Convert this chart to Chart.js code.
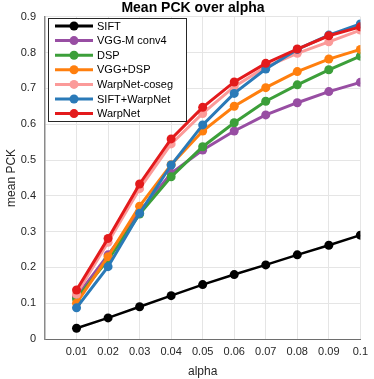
<!DOCTYPE html>
<html>
<head>
<meta charset="utf-8">
<script src="https://cdn.jsdelivr.net/npm/chart.js@4"></script>
<style>
  html, body { margin: 0; padding: 0; background: #fff; }
  #wrap { width: 374px; height: 379px; }
</style>
</head>
<body>
<div id="wrap"><canvas id="chart-pck" width="374" height="379"></canvas></div>
<script>
// Data
const alphas = [0.01, 0.02, 0.03, 0.04, 0.05, 0.06, 0.07, 0.08, 0.09, 0.1];
const yTicks = [0, 0.1, 0.2, 0.3, 0.4, 0.5, 0.6, 0.7, 0.8, 0.9];
const names = ['SIFT', 'VGG-M conv4', 'DSP', 'VGG+DSP', 'WarpNet-coseg', 'SIFT+WarpNet', 'WarpNet'];
const colors = ['#000000', '#984ea3', '#3c9f3a', '#ff7f0e', '#fb9a99', '#2a7ab8', '#e31a1c'];

const sift         = [0.030, 0.059, 0.090, 0.121, 0.152, 0.180, 0.207, 0.235, 0.262, 0.290];
const vggConv4     = [0.118, 0.235, 0.355, 0.463, 0.528, 0.581, 0.626, 0.660, 0.691, 0.717];
const dsp          = [0.112, 0.222, 0.349, 0.453, 0.537, 0.604, 0.664, 0.710, 0.752, 0.790];
const vggDsp       = [0.100, 0.230, 0.371, 0.487, 0.581, 0.650, 0.702, 0.747, 0.782, 0.809];
const warpCoseg    = [0.125, 0.270, 0.420, 0.545, 0.630, 0.705, 0.760, 0.798, 0.830, 0.863];
const siftWarpNet  = [0.087, 0.202, 0.351, 0.486, 0.598, 0.686, 0.754, 0.809, 0.849, 0.880];
const warpNet      = [0.137, 0.281, 0.433, 0.559, 0.647, 0.718, 0.770, 0.810, 0.847, 0.872];

const series = [sift, vggConv4, dsp, vggDsp, warpCoseg, siftWarpNet, warpNet];

const FONT = '"Liberation Sans", Arial, Helvetica, sans-serif';

// legend box drawn inside the plot, top-left
const insideLegend = {
  id: 'insideLegend',
  afterLayout(chart) {
    // title sits a bit left of the plot centre in the original
    const t = chart.titleBlock;
    if (t) { t.left = 93; t.right = 293; t.width = 200; }
  },
  afterDraw(chart) {
    const ctx = chart.ctx;
    const x0 = 48, y0 = 18, w = 138, h = 103;
    ctx.save();
    ctx.fillStyle = '#fff';
    ctx.fillRect(x0, y0, w, h);
    ctx.strokeStyle = '#262626';
    ctx.lineWidth = 1;
    ctx.strokeRect(x0 + 0.5, y0 + 0.5, w, h);
    ctx.font = '11px ' + FONT;
    ctx.textBaseline = 'middle';
    names.forEach((n, i) => {
      const y = y0 + 8 + i * 14.6;
      ctx.strokeStyle = colors[i];
      ctx.lineWidth = 3;
      ctx.beginPath();
      ctx.moveTo(x0 + 7, y);
      ctx.lineTo(x0 + 45, y);
      ctx.stroke();
      ctx.fillStyle = colors[i];
      ctx.beginPath();
      ctx.arc(x0 + 26, y, 4.5, 0, Math.PI * 2);
      ctx.fill();
      ctx.fillStyle = '#000';
      ctx.fillText(n, x0 + 49, y + 0.5);
    });
    ctx.restore();
  }
};

!function(){
  const ctx = document.getElementById('chart-pck');

  new Chart(ctx, {
    type: 'line',
    data: {
      datasets: series.map((s, i) => ({
        label: names[i],
        data: alphas.map((a, j) => ({ x: a, y: s[j] })),
        borderColor: colors[i],
        backgroundColor: colors[i],
        borderWidth: i === 0 ? 2.5 : 3,
        pointRadius: 4.5,
        pointBorderWidth: 0,
        pointHoverRadius: 4.5,
        tension: 0,
        order: series.length - i
      }))
    },
    options: {
      responsive: false,
      animation: false,
      layout: { padding: { top: 0, right: 8, bottom: 0, left: 0 } },
      scales: {
        x: {
          type: 'linear',
          min: 0,
          max: 0.1,
          afterFit: s => { s.height = 40; },
          afterBuildTicks: s => { s.ticks = alphas.map(v => ({ value: v })); },
          ticks: {
            padding: 6,
            color: '#262626',
            font: { family: FONT, size: 11 },
            maxRotation: 0,
            callback: v => String(Math.round(v * 100) / 100)
          },
          grid: { color: '#e5e5e5', drawTicks: false },
          border: { color: '#6e6e6e', width: 1 },
          title: {
            display: true,
            text: 'alpha',
            color: '#262626',
            font: { family: FONT, size: 12 },
            padding: { top: 2, bottom: 0 }
          }
        },
        y: {
          min: 0,
          max: 0.9,
          afterFit: s => { s.width = 45; },
          afterBuildTicks: s => { s.ticks = yTicks.map(v => ({ value: v })); },
          ticks: {
            padding: 9,
            color: '#262626',
            font: { family: FONT, size: 11 },
            callback: v => String(Math.round(v * 10) / 10)
          },
          grid: { color: '#e5e5e5', drawTicks: false },
          border: { color: '#8a8a8a', width: 1.5 },
          title: {
            display: true,
            text: 'mean PCK',
            color: '#262626',
            font: { family: FONT, size: 12 },
            padding: { top: 4, bottom: 0 }
          }
        }
      },
      plugins: {
        legend: { display: false },
        tooltip: { enabled: false },
        title: {
          display: true,
          text: 'Mean PCK over alpha',
          color: '#000',
          fullSize: false,
          font: { family: FONT, size: 14, weight: 'bold', lineHeight: 1.2 },
          padding: { top: 0, bottom: 0 }
        }
      }
    },
    plugins: [insideLegend]
  });
}();
</script>
</body>
</html>
